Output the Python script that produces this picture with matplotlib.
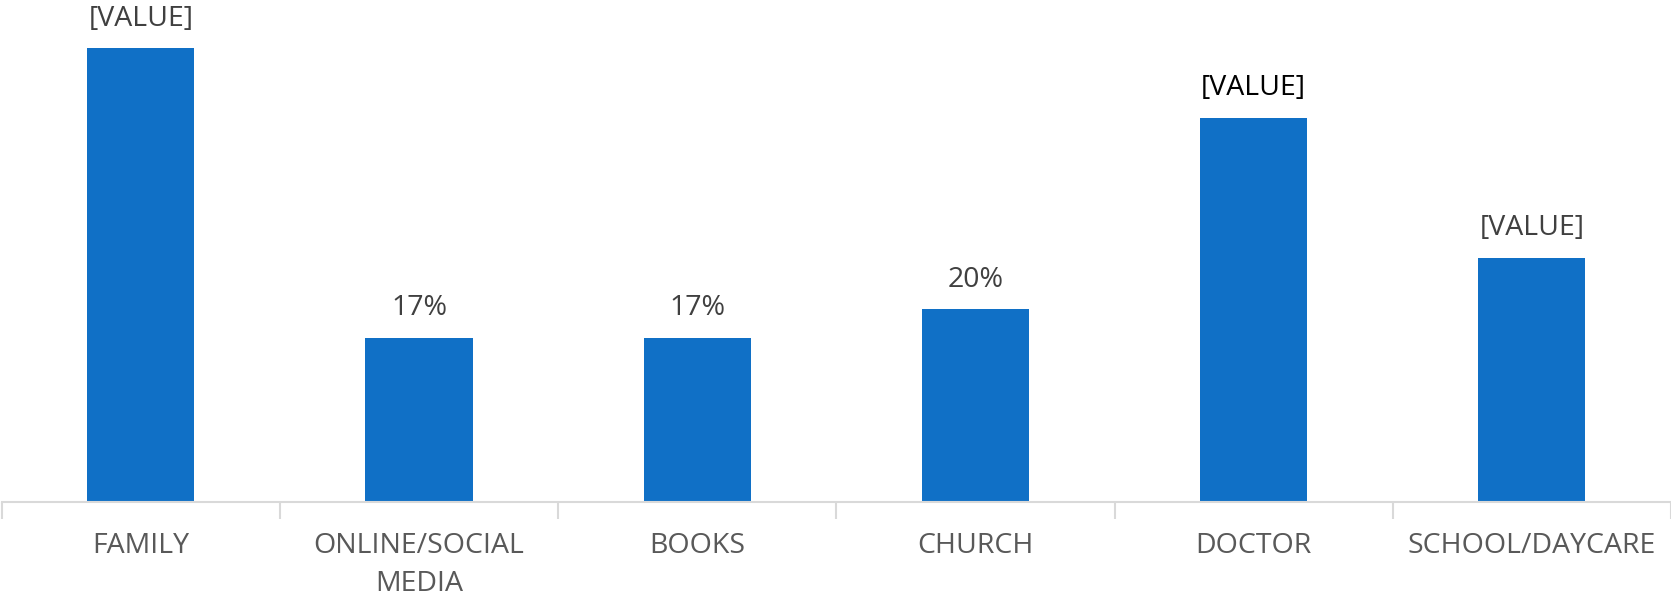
import matplotlib.pyplot as plt

# Where parents get their information, share of respondents (%)
categories = ['FAMILY', 'ONLINE/SOCIAL\nMEDIA', 'BOOKS', 'CHURCH', 'DOCTOR', 'SCHOOL/DAYCARE']
values = [47, 17, 17, 20, 39.8, 25.3]
labels = ['[VALUE]', '17%', '17%', '20%', '[VALUE]', '[VALUE]']
label_colors = ['#404040', '#404040', '#404040', '#404040', '#000000', '#404040']

plt.rcParams['font.family'] = ['Open Sans', 'DejaVu Sans']

fig = plt.figure(figsize=(16.71, 6.01), dpi=100)
ax = fig.add_axes([0.001, 0.165, 0.999, 0.835])

x = range(len(categories))
bars = ax.bar(x, values, width=0.385, color='#1070C6')

# value labels above each bar
for bar, text, col in zip(bars, labels, label_colors):
    ax.annotate(text, (bar.get_x() + bar.get_width() / 2, bar.get_height()),
                xytext=(0, 11), textcoords='offset points',
                ha='center', va='bottom', fontsize=20.5, color=col)

ax.set_xlim(-0.5, len(categories) - 0.5)
ax.set_ylim(0, 52)

# category axis with separators between groups
ax.set_xticks(x)
ax.set_xticklabels(categories, fontsize=20.5, color='#595959', linespacing=1.45)
ax.tick_params(axis='x', length=0, pad=22)
ax.set_xticks([i - 0.5 for i in range(len(categories) + 1)], minor=True)
ax.tick_params(axis='x', which='minor', length=12, width=1.5, color='#D9D9D9')
ax.set_yticks([])

for side in ['top', 'right', 'left']:
    ax.spines[side].set_visible(False)
ax.spines['bottom'].set_color('#D9D9D9')
ax.spines['bottom'].set_linewidth(1.5)

fig.savefig('out.png', dpi=100)
